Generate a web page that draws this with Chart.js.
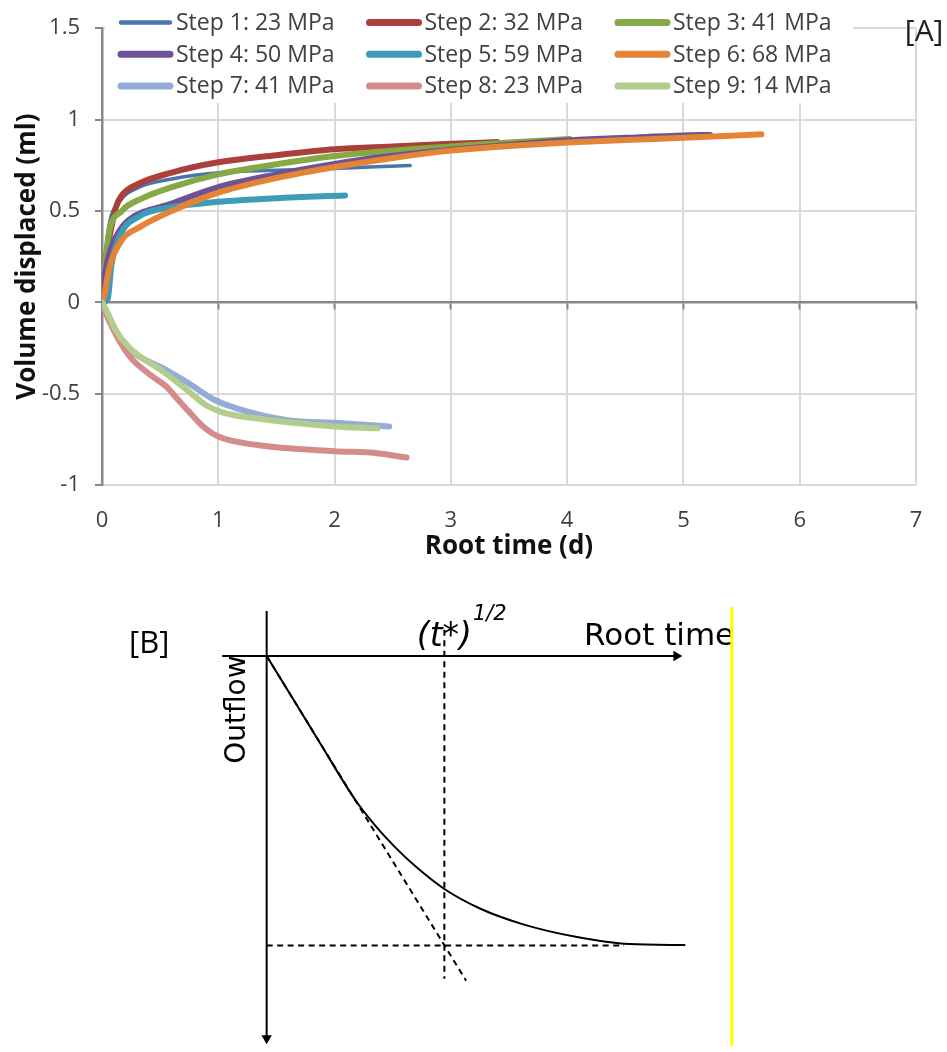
<!DOCTYPE html>
<html>
<head>
<meta charset="utf-8">
<script src="https://cdn.jsdelivr.net/npm/chart.js@4.4.1/dist/chart.umd.min.js"></script>
<style>
  body { margin: 0; background: #fff; }
  #boxA { position: relative; width: 947px; height: 570px; }
  #boxB { position: relative; width: 947px; height: 482px; }
</style>
</head>
<body>
<div id="boxA"><canvas id="chartA"></canvas></div>
<div id="boxB"><canvas id="chartB"></canvas></div>
<script>
// [A] root time (d) / volume displaced (ml), one pair per step
const stepLabels = ['Step 1: 23 MPa', 'Step 2: 32 MPa', 'Step 3: 41 MPa',
  'Step 4: 50 MPa', 'Step 5: 59 MPa', 'Step 6: 68 MPa',
  'Step 7: 41 MPa', 'Step 8: 23 MPa', 'Step 9: 14 MPa']
const stepColors = ['#4a74ad', '#aa3f3c', '#86a845', '#6d5394', '#3d9db6',
  '#e38436', '#93acd8', '#d48c8b', '#b3cd8e']

const step1T = [0, 0.02, 0.06, 0.15, 0.32, 0.6, 1.03, 1.5, 2.0, 2.3, 2.65]
const step1V = [0, 0.2, 0.42, 0.55, 0.63, 0.675, 0.71, 0.722, 0.732, 0.74, 0.748]
const step2T = [0, 0.02, 0.06, 0.12, 0.17, 0.32, 0.6, 1.0, 1.5, 2.0, 2.5, 3.0, 3.4]
const step2V = [0, 0.18, 0.34, 0.52, 0.585, 0.65, 0.71, 0.766, 0.805, 0.838, 0.853, 0.867, 0.877]
const step3T = [0, 0.03, 0.06, 0.17, 0.35, 0.6, 1.0, 1.5, 2.0, 2.5, 3.0, 3.5, 4.02]
const step3V = [0, 0.22, 0.38, 0.5, 0.57, 0.63, 0.7, 0.755, 0.8, 0.83, 0.853, 0.875, 0.893]
const step4T = [0, 0.03, 0.08, 0.15, 0.23, 0.6, 1.0, 1.5, 2.0, 2.4, 3.0, 3.5, 4.0, 4.5, 5.0, 5.23]
const step4V = [0, 0.17, 0.3, 0.39, 0.45, 0.54, 0.63, 0.7, 0.757, 0.795, 0.835, 0.862, 0.886, 0.9, 0.913, 0.916]
const step5T = [0, 0.05, 0.08, 0.15, 0.32, 0.6, 1.0, 1.5, 2.09]
const step5V = [0, 0.02, 0.2, 0.36, 0.47, 0.52, 0.55, 0.57, 0.585]
const step6T = [0, 0.02, 0.06, 0.17, 0.32, 0.6, 1.0, 1.5, 2.0, 2.5, 3.0, 3.5, 4.0, 4.5, 5.0, 5.67]
const step6V = [0, 0.04, 0.18, 0.34, 0.41, 0.5, 0.6, 0.68, 0.74, 0.79, 0.83, 0.855, 0.874, 0.888, 0.9, 0.919]
const step7T = [0, 0.05, 0.15, 0.26, 0.55, 0.75, 0.97, 1.26, 1.6, 2.03, 2.47]
const step7V = [0, -0.07, -0.19, -0.27, -0.37, -0.445, -0.535, -0.6, -0.645, -0.66, -0.68]
const step8T = [0, 0.06, 0.23, 0.4, 0.55, 0.65, 0.75, 0.87, 1.0, 1.32, 2.0, 2.35, 2.62]
const step8V = [0, -0.1, -0.29, -0.39, -0.46, -0.53, -0.6, -0.68, -0.735, -0.78, -0.815, -0.825, -0.85]
const step9T = [0, 0.05, 0.12, 0.23, 0.55, 0.75, 0.9, 1.05, 1.32, 2.0, 2.37]
const step9V = [0, -0.06, -0.155, -0.245, -0.39, -0.49, -0.565, -0.605, -0.635, -0.68, -0.69]

const stepT = [step1T, step2T, step3T, step4T, step5T, step6T, step7T, step8T, step9T]
const stepV = [step1V, step2V, step3V, step4V, step5V, step6V, step7V, step8V, step9V]

// [B] schematic, root time t and outflow q (q grows downward)
const timeAxisT = [-0.45, 4.15]
const timeAxisQ = [0, 0]
const outflowAxisT = [0, 0]
const outflowAxisQ = [-0.46, 3.92]
const curveT = [0, 0.5, 0.9, 1.1, 1.3, 1.51, 1.8, 2.16, 2.59, 3.13, 3.67, 4.24]
const curveQ = [0, 0.825, 1.48, 1.74, 1.96, 2.16, 2.39, 2.59, 2.75, 2.88, 2.955, 2.965]
const tangentT = [0, 2.02]
const tangentQ = [0, 3.33]
const tStarT = [1.8, 1.8]
const tStarQ = [-0.27, 3.31]
const plateauT = [0, 3.62]
const plateauQ = [2.97, 2.97]
const markerT = [4.71, 4.71]
const markerQ = [-0.5, 4.0]

function pts(xs, ys) {
  return xs.map((x, i) => ({ x: x, y: ys[i] }))
}

Chart.defaults.font.family = '"Open Sans", "DejaVu Sans", sans-serif'
Chart.defaults.color = '#4d4d4d'

// text drawn through the scales, before the lines
function textPlugin(items) {
  return {
    id: 'textMarks',
    beforeDatasetsDraw(chart) {
      const ctx = chart.ctx
      const sx = chart.scales.x
      const sy = chart.scales.y
      items.forEach(m => {
        ctx.save()
        ctx.translate(sx.getPixelForValue(m.x), sy.getPixelForValue(m.y))
        ctx.rotate((m.rotation || 0) * Math.PI / 180)
        ctx.font = m.font
        ctx.fillStyle = m.color || '#000'
        ctx.textAlign = 'center'
        ctx.textBaseline = 'middle'
        ctx.fillText(m.text, 0, 0)
        ctx.restore()
      })
    }
  }
}

// legend in 3 columns on a white box over the top of the plot
const legendBox = {
  id: 'legendBox',
  beforeDatasetsDraw(chart) {
    const ctx = chart.ctx
    ctx.save()
    ctx.fillStyle = '#ffffff'
    ctx.fillRect(105, 0, 748, 103)
    ctx.font = '23px "Open Sans"'
    ctx.textBaseline = 'middle'
    ctx.lineCap = 'round'
    chart.data.datasets.forEach((ds, i) => {
      const x = 118 + (i % 3) * 248.5
      const y = 22.5 + Math.floor(i / 3) * 31.7
      ctx.strokeStyle = ds.borderColor
      ctx.lineWidth = ds.borderWidth + 1
      ctx.beginPath()
      ctx.moveTo(x + 3, y)
      ctx.lineTo(x + 52, y)
      ctx.stroke()
      ctx.fillStyle = '#404040'
      ctx.fillText(ds.label, x + 58, y + 1)
    })
    ctx.restore()
  }
}

const tickFont = { family: '"Open Sans"', size: 22 }
const titleFont = { family: '"Open Sans"', size: 26, weight: 'bold' }
const axisGrey = '#878787'
const gridGrey = '#d9d9d9'

new Chart(document.getElementById('chartA'), {
  type: 'scatter',
  data: {
    datasets: stepLabels.map((label, i) => ({
      label: label,
      data: pts(stepT[i], stepV[i]),
      borderColor: stepColors[i],
      backgroundColor: stepColors[i],
      borderWidth: i === 0 ? 3.5 : 6,
      showLine: true,
      pointRadius: 0,
      cubicInterpolationMode: 'monotone',
      borderCapStyle: 'round',
      borderJoinStyle: 'round',
      order: 9 - i,
      xAxisID: 'x',
      yAxisID: 'y'
    }))
  },
  options: {
    responsive: true,
    maintainAspectRatio: false,
    animation: false,
    layout: { padding: { top: 22, right: 31, left: 0, bottom: 0 } },
    plugins: { legend: { display: false }, tooltip: { enabled: false } },
    scales: {
      x: {
        type: 'linear', position: 'bottom', min: 0, max: 7,
        ticks: { stepSize: 1, padding: 23, font: tickFont, color: '#404040' },
        grid: {
          color: c => c.tick && c.tick.value === 0 ? 'rgba(0,0,0,0)' : gridGrey,
          lineWidth: 2, drawTicks: false
        },
        border: { display: false },
        title: { display: true, text: 'Root time (d)', color: '#111', font: titleFont, padding: { top: 0, bottom: 8 } },
        afterFit: s => { s.height = 85; s.paddingLeft = 0; s.paddingRight = 0 }
      },
      xZero: {
        type: 'linear', axis: 'x', position: { y: 0 }, min: 0, max: 7,
        ticks: { display: false, stepSize: 1 },
        grid: { drawOnChartArea: false, tickLength: 6, tickColor: axisGrey, tickWidth: 2 },
        border: { color: axisGrey, width: 2.5 }
      },
      y: {
        type: 'linear', min: -1, max: 1.5,
        ticks: { stepSize: 0.5, padding: 15, font: tickFont, color: '#404040', callback: v => String(v) },
        grid: {
          color: c => c.tick && c.tick.value === 0 ? 'rgba(0,0,0,0)' : gridGrey,
          lineWidth: 2, tickLength: 7, tickColor: axisGrey, tickWidth: 2
        },
        border: { color: axisGrey, width: 2.5 },
        title: { display: true, text: 'Volume displaced (ml)', color: '#111', font: titleFont, padding: { top: 12, bottom: 0 } },
        afterFit: s => { s.width = 102 }
      }
    }
  },
  plugins: [legendBox, textPlugin([
    { text: '[A]', x: 7.07, y: 1.476, font: '30px "Open Sans"', color: '#222' }
  ])]
})

function schematicLine(xs, ys, extra) {
  return Object.assign({
    data: pts(xs, ys),
    showLine: true,
    borderColor: '#000',
    backgroundColor: '#000',
    borderWidth: 2,
    pointRadius: 0
  }, extra || {})
}

new Chart(document.getElementById('chartB'), {
  type: 'scatter',
  data: {
    datasets: [
      schematicLine(timeAxisT, timeAxisQ, { pointRadius: [0, 6], pointStyle: 'triangle', pointRotation: 90, pointBorderWidth: 0 }),
      schematicLine(outflowAxisT, outflowAxisQ, { pointRadius: [0, 6], pointStyle: 'triangle', pointRotation: 180, pointBorderWidth: 0 }),
      schematicLine(curveT, curveQ, { cubicInterpolationMode: 'monotone' }),
      schematicLine(tangentT, tangentQ, { borderDash: [6, 4.5] }),
      schematicLine(tStarT, tStarQ, { borderDash: [6, 4.5] }),
      schematicLine(plateauT, plateauQ, { borderDash: [6, 4.5] }),
      schematicLine(markerT, markerQ, { borderColor: '#ffff00', borderWidth: 3 })
    ]
  },
  options: {
    responsive: true,
    maintainAspectRatio: false,
    animation: false,
    layout: { padding: 0 },
    plugins: { legend: { display: false }, tooltip: { enabled: false } },
    scales: {
      x: { type: 'linear', display: false, min: -2.64, max: 6.83 },
      y: { type: 'linear', display: false, min: -0.82, max: 4.0, reverse: true }
    }
  },
  plugins: [textPlugin([
    { text: '[B]', x: -1.19, y: -0.12, font: '31px "Open Sans"' },
    { text: 'Root time', x: 3.975, y: -0.2, font: '31px "DejaVu Sans"' },
    { text: '(t*)', x: 1.8, y: -0.19, font: 'italic 33px "DejaVu Sans"' },
    { text: '1/2', x: 2.26, y: -0.42, font: 'italic 21px "DejaVu Sans"' },
    { text: 'Outflow', x: -0.29, y: 0.55, rotation: -90, font: '28px "DejaVu Sans"' }
  ])]
})
</script>
</body>
</html>
